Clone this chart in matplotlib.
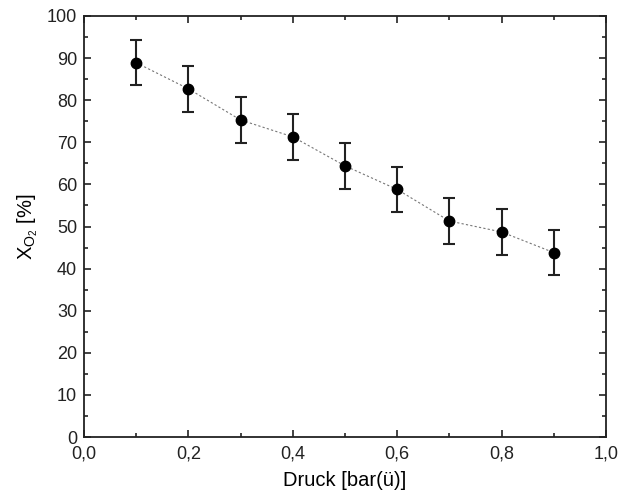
import matplotlib
matplotlib.use("Agg")
import matplotlib.pyplot as plt
from matplotlib.ticker import MultipleLocator, FuncFormatter

plt.rcParams['font.family'] = ['Liberation Sans', 'DejaVu Sans']
plt.rcParams['mathtext.fontset'] = 'custom'
plt.rcParams['mathtext.rm'] = 'Liberation Sans'

druck = [0.1, 0.2, 0.3, 0.4, 0.5, 0.6, 0.7, 0.8, 0.9]
x_o2 = [88.9, 82.7, 75.3, 71.3, 64.4, 58.8, 51.3, 48.7, 43.8]
fehler = [5.4, 5.4, 5.4, 5.4, 5.4, 5.4, 5.4, 5.4, 5.4]

fig = plt.figure(figsize=(6.22, 5.0), dpi=100)
ax = fig.add_axes([84 / 622, 63 / 500, 522 / 622, 421 / 500])

ax.plot(druck, x_o2, linestyle=(0, (2, 2)), color='#777777', linewidth=0.8, zorder=1)
ax.errorbar(druck, x_o2, yerr=fehler, fmt='o', color='black', markersize=7.5,
            ecolor='#222222', elinewidth=1.5, capsize=4, capthick=1.5, zorder=2)

ax.set_xlim(0, 1.0)
ax.set_ylim(0, 100)
ax.xaxis.set_major_locator(MultipleLocator(0.2))
ax.xaxis.set_minor_locator(MultipleLocator(0.1))
ax.yaxis.set_major_locator(MultipleLocator(10))
ax.yaxis.set_minor_locator(MultipleLocator(5))
ax.xaxis.set_major_formatter(FuncFormatter(lambda v, p: f"{v:.1f}".replace('.', ',')))

ax.tick_params(which='both', direction='in', top=True, right=True, width=1.2,
               labelsize=13, colors='#222222')
ax.tick_params(which='major', length=5)
ax.tick_params(axis='x', which='major', pad=6)
ax.tick_params(axis='y', which='major', pad=5)
ax.tick_params(which='minor', length=3)
for s in ax.spines.values():
    s.set_linewidth(1.3)
    s.set_color('#222222')

ax.set_xlabel('Druck [bar(ü)]', fontsize=14.5, labelpad=6)
ax.set_ylabel(r'X$_{\mathregular{O_2}}$ [%]', fontsize=14.5, labelpad=5)

fig.savefig('out.png', dpi=100)
